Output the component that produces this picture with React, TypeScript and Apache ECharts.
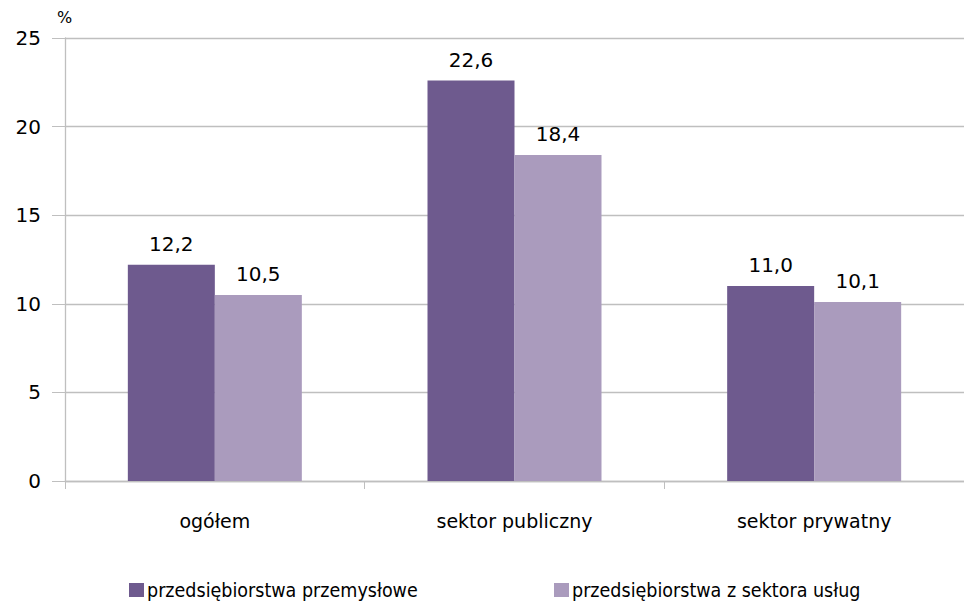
import React, { useEffect, useRef } from "react";
import * as echarts from "echarts";

const categories = ["ogółem", "sektor publiczny", "sektor prywatny"];
const industrial = [12.2, 22.6, 11.0];
const services = [10.5, 18.4, 10.1];
const seriesNames = ["przedsiębiorstwa przemysłowe", "przedsiębiorstwa z sektora usług"];
const yTicks = { min: 0, max: 25, interval: 5 };

const FONT = "'DejaVu Sans', 'Liberation Sans', Arial, sans-serif";
const LEGEND_FONT = "'Liberation Sans Narrow', 'DejaVu Sans Condensed', 'Liberation Sans', sans-serif";
const DARK = "#6E5A8E";
const LIGHT = "#AA9BBD";

export default function App() {
  const ref = useRef<HTMLDivElement>(null);
  useEffect(() => {
    if (!ref.current) return;
    const chart = echarts.init(ref.current, null, { renderer: "svg" });
    const label = {
      show: true,
      position: "top",
      distance: 11,
      color: "#000",
      fontSize: 20,
      fontFamily: FONT,
      formatter: (p: any) => p.value.toFixed(1).replace(".", ","),
    };
    const legendText = { fontSize: 19.5, lineHeight: 20, color: "#000", fontFamily: LEGEND_FONT, padding: [0, 0, 0, -2] };
    chart.setOption({
      animation: false,
      backgroundColor: "#fff",
      textStyle: { fontFamily: FONT },
      grid: { left: 65, top: 38, width: 908, height: 443, containLabel: false },
      graphic: [
        { type: "text", left: 57, top: 9, style: { text: "%", fontSize: 16, fontFamily: FONT, fill: "#000" } },
      ],
      legend: [
        {
          data: [seriesNames[0]],
          left: 129,
          top: 580,
          padding: 0,
          itemWidth: 15,
          itemHeight: 14,
          icon: "rect",
          textStyle: legendText,
        },
        {
          data: [seriesNames[1]],
          left: 554,
          top: 580,
          padding: 0,
          itemWidth: 15,
          itemHeight: 14,
          icon: "rect",
          textStyle: legendText,
        },
      ],
      xAxis: {
        type: "category",
        data: categories,
        axisLine: { show: true, lineStyle: { color: "#BFBFBF", width: 1.3 } },
        axisTick: { show: true, length: 8, lineStyle: { color: "#BFBFBF" }, alignWithLabel: false },
        axisLabel: { color: "#000", fontSize: 19, fontFamily: FONT, margin: 30 },
      },
      yAxis: {
        type: "value",
        min: yTicks.min,
        max: yTicks.max,
        interval: yTicks.interval,
        axisLine: { show: true, lineStyle: { color: "#BFBFBF", width: 1.3 } },
        axisTick: { show: true, length: 13, lineStyle: { color: "#BFBFBF" } },
        axisLabel: { color: "#000", fontSize: 20, fontFamily: FONT, margin: 24 },
        splitLine: { show: true, lineStyle: { color: "#BFBFBF", width: 1.3 } },
      },
      series: [
        {
          name: seriesNames[0],
          type: "bar",
          data: industrial,
          barWidth: 87,
          barGap: "0%",
          itemStyle: { color: DARK },
          label,
        },
        {
          name: seriesNames[1],
          type: "bar",
          data: services,
          barWidth: 87,
          barGap: "0%",
          itemStyle: { color: LIGHT },
          label,
        },
      ],
    });
    return () => chart.dispose();
  }, []);
  return <div ref={ref} style={{ width: 964, height: 601, position: "absolute", left: 0, top: 0 }} />;
}
